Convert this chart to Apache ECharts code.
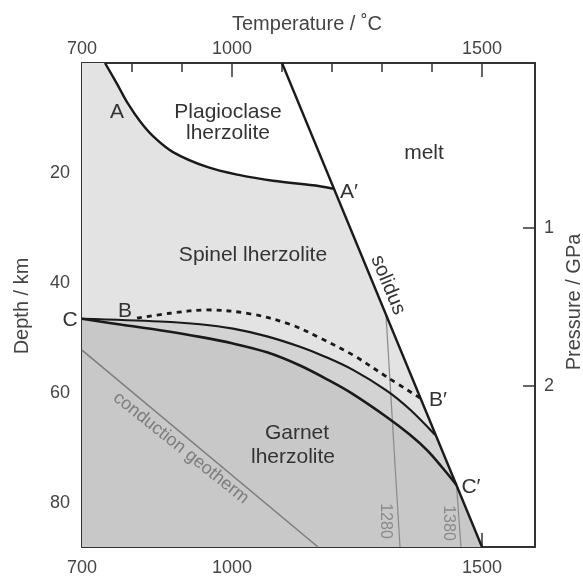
<!DOCTYPE html>
<html>
<head>
<meta charset="utf-8">
<script src="https://cdn.jsdelivr.net/npm/echarts@6/dist/echarts.min.js"></script>
<style>
html,body{margin:0;padding:0;background:#fff;}
#chart{width:583px;height:578px;}
</style>
</head>
<body>
<div id="chart"></div>
<script>
// ---- axis ranges & ticks ----
const TEMP_MIN = 700, TEMP_MAX = 1606;
const DEPTH_MIN = 0, DEPTH_MAX = 88;
const PRESSURE_MIN = -0.044, PRESSURE_MAX = 3.019;
const tempLabels = [700, 1000, 1500];
const tempMinorTicks = [800, 900, 1100, 1200, 1300, 1400];
const tempMajorTicks = [1000, 1500];
const depthTicks = [10, 20, 30, 40, 50, 60, 70, 80];
const depthLabels = [20, 40, 60, 80];
const pressureTicks = [1, 2];

// ---- boundaries [temperature °C, depth km] ----
const plagSpinelBoundary = [[746,0],[770,3.8],[792,7.4],[816,10.6],[842,13.3],[882,16.2],[950,18.9],[1016,20.4],[1082,21.4],[1176,22.4],[1204,22.9]];
const solidus = [[1100,0],[1500,88]];
const spinelGarnetDashed = [[810,46.4],[876,45.5],[950,44.9],[1036,45.6],[1116,47.5],[1176,50.0],[1242,53.1],[1310,57.1],[1376,60.9]];
const upperBoundary = [[700,46.5],[856,47.0],[936,47.5],[1002,48.3],[1070,49.7],[1136,51.6],[1186,53.4],[1242,55.8],[1310,59.6],[1356,63.0],[1406,67.6]];
const lowerBoundary = [[700,46.5],[780,47.6],[856,48.6],[936,49.8],[1002,51.0],[1070,52.6],[1136,55.0],[1196,57.8],[1242,60.2],[1310,64.4],[1356,67.6],[1390,70.4],[1420,73.5],[1449,76.7]];
const conductionGeotherm = [[700,52.2],[1172,88]];
const adiabat1280 = [[1308,45.8],[1336,88]];
const adiabat1380 = [[1449,76.7],[1458,88]];

// ---- region polygons built from the boundaries ----
const lightPoly = [[TEMP_MIN, DEPTH_MIN]].concat(plagSpinelBoundary, [solidus[1], [TEMP_MIN, DEPTH_MAX]]);
const bandPoly = upperBoundary.concat(lowerBoundary.slice().reverse());
const garnetPoly = lowerBoundary.concat([solidus[1], [TEMP_MIN, DEPTH_MAX]]);

const FONT = "'Liberation Sans', Arial, Helvetica, sans-serif";
const AX = '#333';
const plain = v => String(v);

function polySeries(poly, fill) {
  return {
    type: 'custom', coordinateSystem: 'cartesian2d', xAxisIndex: 0, yAxisIndex: 0,
    silent: true, clip: true, z: 1,
    data: [poly[0]],
    renderItem: function (params, api) {
      return { type: 'polygon', shape: { points: poly.map(p => api.coord(p)) },
               style: { fill: fill, stroke: null } };
    }
  };
}
function lineSeries(data, color, width, dash, smooth) {
  return {
    type: 'line', xAxisIndex: 0, yAxisIndex: 0, data: data, symbol: 'none', silent: true,
    smooth: smooth ? 0.35 : false, z: 3,
    lineStyle: { color: color, width: width, type: dash || 'solid' }
  };
}
function txt(text, x, y, size, color, rot) {
  return { type: 'text', x: x, y: y, rotation: rot || 0, z: 10, silent: true,
    style: { text: text, fill: color || '#333', font: size + 'px ' + FONT,
      fontSize: size, fontFamily: FONT,
      align: 'center', verticalAlign: 'middle', textAlign: 'center', textVerticalAlign: 'middle' } };
}

const chart = echarts.init(document.getElementById('chart'), null, { renderer: 'canvas' });
const baseX = { type: 'value', min: TEMP_MIN, max: TEMP_MAX, splitLine: { show: false } };
chart.setOption({
  animation: false,
  backgroundColor: '#fff',
  grid: { left: 82, right: 48, top: 63, bottom: 31, containLabel: false },
  xAxis: [
    Object.assign({}, baseX, { position: 'bottom',
      axisLine: { show: true, onZero: false, lineStyle: { color: AX, width: 2 } },
      axisTick: { show: true, inside: true, length: 9, customValues: tempMinorTicks, lineStyle: { color: AX, width: 1.5 } },
      axisLabel: { customValues: tempLabels, formatter: plain, fontSize: 18, color: '#444', margin: 12, fontFamily: FONT } }),
    Object.assign({}, baseX, { position: 'bottom',
      axisLine: { show: false, onZero: false },
      axisTick: { show: true, inside: true, length: 14, customValues: tempMajorTicks, lineStyle: { color: AX, width: 1.5 } },
      axisLabel: { show: false } }),
    Object.assign({}, baseX, { position: 'top',
      axisLine: { show: true, onZero: false, lineStyle: { color: AX, width: 2 } },
      axisTick: { show: true, inside: true, length: 9, customValues: tempMinorTicks, lineStyle: { color: AX, width: 1.5 } },
      axisLabel: { customValues: tempLabels, formatter: plain, fontSize: 18, color: '#444', margin: 5, fontFamily: FONT } }),
    Object.assign({}, baseX, { position: 'top',
      axisLine: { show: false, onZero: false },
      axisTick: { show: true, inside: true, length: 14, customValues: tempMajorTicks, lineStyle: { color: AX, width: 1.5 } },
      axisLabel: { show: false } })
  ],
  yAxis: [
    { type: 'value', position: 'left', inverse: true, min: DEPTH_MIN, max: DEPTH_MAX, splitLine: { show: false },
      axisLine: { show: true, onZero: false, lineStyle: { color: AX, width: 2 } },
      axisTick: { show: true, inside: true, length: 9, customValues: depthTicks, lineStyle: { color: AX, width: 1.5 } },
      axisLabel: { customValues: depthLabels, formatter: plain, fontSize: 18, color: '#444', margin: 12, fontFamily: FONT } },
    { type: 'value', position: 'right', inverse: true, min: PRESSURE_MIN, max: PRESSURE_MAX, splitLine: { show: false },
      axisLine: { show: true, onZero: false, lineStyle: { color: AX, width: 2 } },
      axisTick: { show: true, inside: true, length: 12, customValues: pressureTicks, lineStyle: { color: AX, width: 1.5 } },
      axisLabel: { customValues: pressureTicks, formatter: plain, fontSize: 18, color: '#444', margin: 9, fontFamily: FONT } }
  ],
  series: [
    polySeries(lightPoly, '#e3e3e3'),
    polySeries(bandPoly, '#d3d3d3'),
    polySeries(garnetPoly, '#c8c8c8'),
    lineSeries(conductionGeotherm, '#7d7d7d', 1.5),
    lineSeries(adiabat1280, '#8a8a8a', 1.2),
    lineSeries(adiabat1380, '#8a8a8a', 1.2),
    lineSeries(plagSpinelBoundary, '#1a1a1a', 2.4, null, true),
    lineSeries(spinelGarnetDashed, '#1a1a1a', 2.8, [5, 5], true),
    lineSeries(upperBoundary, '#1a1a1a', 2.2, null, true),
    lineSeries(lowerBoundary, '#1a1a1a', 2.6, null, true),
    lineSeries(solidus, '#1a1a1a', 2.4)
  ],
  graphic: [
    txt('Temperature / ˚C', 307, 24, 20, '#444'),
    txt('Depth / km', 22, 306, 20, '#444', Math.PI / 2),
    txt('Pressure / GPa', 574, 302, 20, '#444', Math.PI / 2),
    txt('A', 117, 112, 21),
    txt('Plagioclase', 228, 112, 21),
    txt('lherzolite', 228, 133, 21),
    txt('melt', 424, 153, 21),
    txt('A′', 349, 192, 21),
    txt('Spinel lherzolite', 253, 255, 21),
    txt('solidus', 388, 285, 20, '#333', -1.18),
    txt('B', 125, 311, 21),
    txt('C', 70, 320, 21),
    txt('B′', 438, 400, 21),
    txt('C′', 471, 487, 21),
    txt('Garnet', 297, 433, 21),
    txt('lherzolite', 293, 457, 21),
    txt('conduction geotherm', 181, 448, 18, '#7d7d7d', -0.674),
    txt('1280', 385, 521, 16, '#8a8a8a', -Math.PI / 2),
    txt('1380', 448, 523, 16, '#8a8a8a', -Math.PI / 2)
  ]
});
</script>
</body>
</html>
